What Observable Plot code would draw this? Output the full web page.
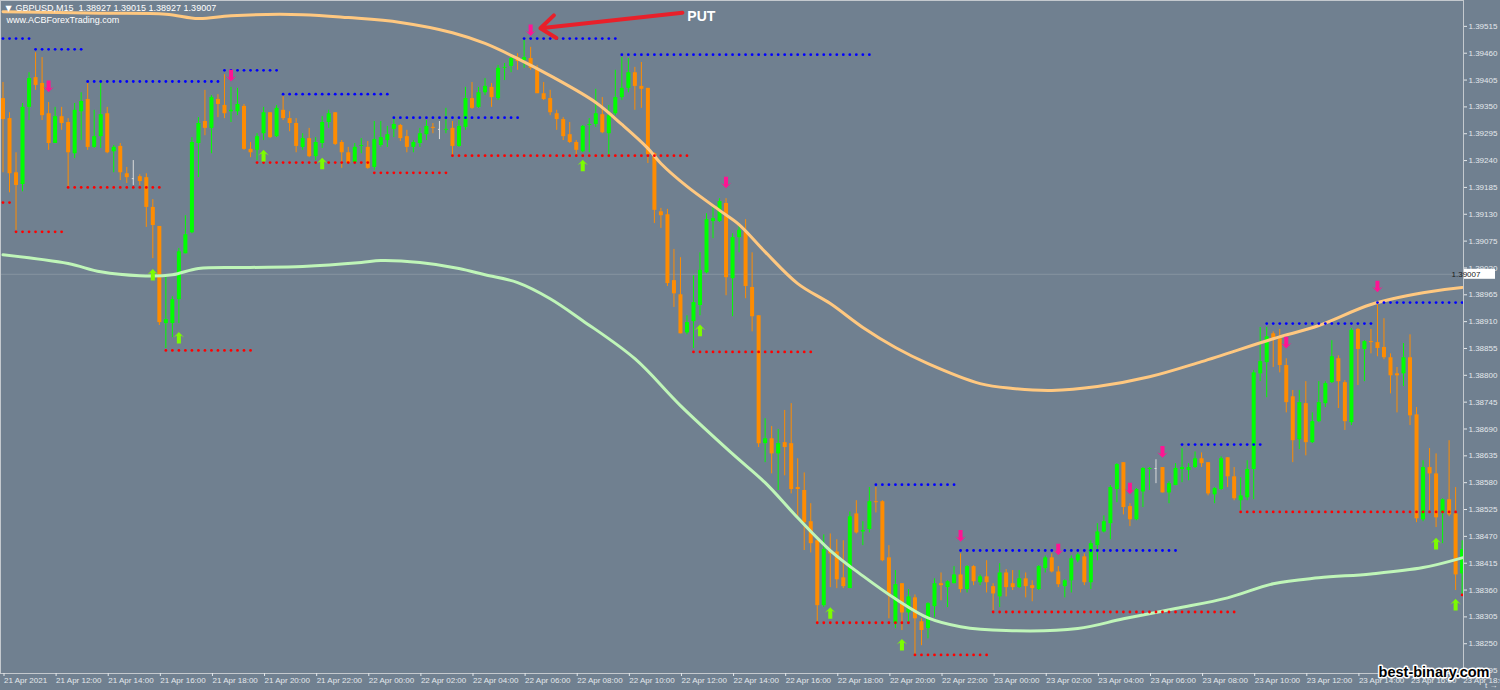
<!DOCTYPE html>
<html><head><meta charset="utf-8">
<script src="https://cdn.jsdelivr.net/npm/d3@7"></script>
<script src="https://cdn.jsdelivr.net/npm/@observablehq/plot@0.6"></script>
<style>html,body{margin:0;padding:0;background:#708090;overflow:hidden;}</style>
</head><body><div id="chart"></div>
<script>
// GBPUSD M15, candles from 21 Apr 2021 10:00, one per 15 minutes
const open = [
1.39367,1.39326,1.39215,1.39191,1.39349,1.39410,1.39398,1.39336,1.39275,1.39330,
1.39318,1.39254,1.39340,1.39365,1.39267,1.39289,1.39336,1.39258,1.39269,1.39213,
1.39203,1.39207,1.39205,1.39144,1.39105,1.38906,1.38906,1.38955,1.39049,1.39092,
1.39275,1.39320,1.39306,1.39365,1.39353,1.39340,1.39340,1.39351,1.39263,1.39261,
1.39295,1.39338,1.39289,1.39343,1.39326,1.39316,1.39267,1.39285,1.39248,1.39275,
1.39318,1.39338,1.39277,1.39256,1.39236,1.39269,1.39267,1.39226,1.39271,1.39281,
1.39304,1.39312,1.39289,1.39267,1.39275,1.39293,1.39308,1.39304,1.39302,1.39306,
1.39269,1.39308,1.39367,1.39349,1.39379,1.39390,1.39367,1.39429,1.39433,1.39451,
1.39445,1.39449,1.39429,1.39377,1.39367,1.39336,1.39324,1.39293,1.39277,1.39258,
1.39312,1.39314,1.39334,1.39295,1.39336,1.39369,1.39388,1.39420,1.39392,1.39388,
1.39254,1.39135,1.39129,1.38994,1.38965,1.38887,1.38910,1.38943,1.39010,1.39115,
1.39115,1.39152,1.38998,1.39082,1.39094,1.38980,1.38922,1.38660,1.38670,1.38639,
1.38662,1.38660,1.38570,1.38564,1.38500,1.38461,1.38328,1.38441,1.38438,1.38385,
1.38363,1.38516,1.38479,1.38484,1.38541,1.38541,1.38426,1.38291,1.38373,1.38313,
1.38344,1.38295,1.38281,1.38326,1.38373,1.38365,1.38373,1.38391,1.38361,1.38408,
1.38375,1.38387,1.38367,1.38346,1.38395,1.38373,1.38365,1.38383,1.38369,1.38361,
1.38404,1.38426,1.38397,1.38367,1.38379,1.38420,1.38428,1.38375,1.38451,1.38479,
1.38496,1.38566,1.38621,1.38531,1.38504,1.38561,1.38607,1.38609,1.38611,1.38559,
1.38574,1.38607,1.38605,1.38611,1.38629,1.38621,1.38555,1.38566,1.38631,1.38592,
1.38543,1.38549,1.38607,1.38803,1.38826,1.38885,1.38875,1.38820,1.38756,1.38668,
1.38742,1.38662,1.38705,1.38742,1.38785,1.38834,1.38785,1.38703,1.38894,1.38853,
1.38869,1.38867,1.38857,1.38836,1.38803,1.38803,1.38836,1.38719,1.38504,1.38611,
1.38598,1.38518,1.38545,1.38516,1.38393];
const high = [
1.39400,1.39338,1.39256,1.39357,1.39420,1.39461,1.39451,1.39359,1.39349,1.39349,
1.39326,1.39357,1.39379,1.39398,1.39343,1.39398,1.39349,1.39271,1.39275,1.39226,
1.39240,1.39211,1.39213,1.39160,1.39105,1.39006,1.38961,1.39060,1.39127,1.39287,
1.39328,1.39384,1.39373,1.39375,1.39416,1.39390,1.39388,1.39355,1.39277,1.39295,
1.39349,1.39338,1.39353,1.39371,1.39340,1.39326,1.39295,1.39306,1.39287,1.39330,
1.39343,1.39338,1.39281,1.39267,1.39275,1.39285,1.39279,1.39320,1.39320,1.39310,
1.39326,1.39314,1.39302,1.39281,1.39306,1.39322,1.39316,1.39320,1.39347,1.39320,
1.39322,1.39390,1.39400,1.39390,1.39408,1.39398,1.39435,1.39439,1.39455,1.39459,
1.39490,1.39472,1.39435,1.39400,1.39384,1.39343,1.39328,1.39318,1.39281,1.39312,
1.39326,1.39386,1.39369,1.39353,1.39425,1.39451,1.39449,1.39431,1.39441,1.39388,
1.39256,1.39142,1.39140,1.39058,1.39041,1.38922,1.39004,1.39051,1.39131,1.39148,
1.39162,1.39162,1.39090,1.39107,1.39119,1.39051,1.38922,1.38711,1.38695,1.38689,
1.38728,1.38742,1.38629,1.38600,1.38537,1.38461,1.38473,1.38475,1.38463,1.38461,
1.38520,1.38543,1.38500,1.38570,1.38570,1.38543,1.38451,1.38400,1.38373,1.38361,
1.38350,1.38301,1.38334,1.38383,1.38395,1.38379,1.38408,1.38434,1.38410,1.38410,
1.38391,1.38420,1.38373,1.38414,1.38402,1.38400,1.38400,1.38395,1.38379,1.38410,
1.38430,1.38434,1.38408,1.38381,1.38430,1.38436,1.38434,1.38461,1.38496,1.38512,
1.38574,1.38619,1.38621,1.38537,1.38568,1.38611,1.38611,1.38627,1.38611,1.38582,
1.38619,1.38650,1.38619,1.38643,1.38641,1.38621,1.38570,1.38633,1.38631,1.38611,
1.38590,1.38625,1.38810,1.38898,1.38898,1.38889,1.38894,1.38834,1.38769,1.38769,
1.38787,1.38723,1.38787,1.38787,1.38871,1.38840,1.38789,1.38896,1.38896,1.38871,
1.38894,1.38947,1.38916,1.38844,1.38816,1.38865,1.38883,1.38734,1.38625,1.38650,
1.38639,1.38547,1.38666,1.38570,1.38461];
const low = [
1.39215,1.39174,1.39097,1.39176,1.39322,1.39384,1.39322,1.39261,1.39275,1.39302,
1.39185,1.39244,1.39281,1.39261,1.39265,1.39265,1.39254,1.39215,1.39199,1.39193,
1.39189,1.39189,1.39103,1.39039,1.38902,1.38855,1.38877,1.38906,1.39049,1.39090,
1.39205,1.39291,1.39254,1.39328,1.39326,1.39318,1.39332,1.39261,1.39246,1.39240,
1.39281,1.39285,1.39287,1.39322,1.39299,1.39256,1.39261,1.39246,1.39240,1.39265,
1.39306,1.39271,1.39224,1.39234,1.39234,1.39254,1.39222,1.39220,1.39267,1.39267,
1.39287,1.39279,1.39256,1.39256,1.39267,1.39281,1.39295,1.39283,1.39295,1.39248,
1.39267,1.39302,1.39345,1.39347,1.39373,1.39349,1.39363,1.39404,1.39420,1.39425,
1.39429,1.39425,1.39377,1.39363,1.39332,1.39302,1.39281,1.39275,1.39252,1.39256,
1.39256,1.39308,1.39295,1.39250,1.39332,1.39363,1.39379,1.39343,1.39347,1.39234,
1.39111,1.39101,1.38982,1.38939,1.38885,1.38883,1.38855,1.38922,1.39008,1.39080,
1.39113,1.38963,1.38920,1.39051,1.38957,1.38889,1.38652,1.38621,1.38598,1.38564,
1.38594,1.38557,1.38508,1.38441,1.38436,1.38291,1.38324,1.38365,1.38363,1.38363,
1.38363,1.38475,1.38451,1.38477,1.38518,1.38418,1.38301,1.38281,1.38277,1.38293,
1.38225,1.38246,1.38260,1.38303,1.38338,1.38324,1.38373,1.38354,1.38354,1.38369,
1.38369,1.38354,1.38318,1.38324,1.38346,1.38359,1.38363,1.38344,1.38336,1.38359,
1.38395,1.38395,1.38365,1.38344,1.38354,1.38416,1.38369,1.38361,1.38420,1.38477,
1.38463,1.38539,1.38514,1.38490,1.38502,1.38529,1.38564,1.38578,1.38559,1.38537,
1.38574,1.38580,1.38584,1.38609,1.38611,1.38553,1.38537,1.38564,1.38570,1.38543,
1.38523,1.38543,1.38545,1.38787,1.38754,1.38816,1.38805,1.38723,1.38621,1.38648,
1.38635,1.38660,1.38703,1.38734,1.38783,1.38732,1.38687,1.38697,1.38779,1.38787,
1.38844,1.38838,1.38832,1.38762,1.38723,1.38777,1.38697,1.38498,1.38500,1.38523,
1.38488,1.38455,1.38510,1.38359,1.38348];
const close = [
1.39324,1.39213,1.39189,1.39349,1.39408,1.39394,1.39332,1.39275,1.39330,1.39316,
1.39256,1.39343,1.39361,1.39267,1.39289,1.39334,1.39256,1.39267,1.39215,1.39205,
1.39203,1.39197,1.39144,1.39107,1.38908,1.38914,1.38955,1.39053,1.39088,1.39277,
1.39316,1.39306,1.39369,1.39355,1.39336,1.39343,1.39355,1.39263,1.39256,1.39289,
1.39338,1.39287,1.39347,1.39326,1.39316,1.39269,1.39285,1.39248,1.39277,1.39318,
1.39336,1.39273,1.39256,1.39234,1.39267,1.39271,1.39224,1.39283,1.39287,1.39293,
1.39314,1.39285,1.39267,1.39277,1.39295,1.39310,1.39306,1.39304,1.39304,1.39269,
1.39310,1.39367,1.39347,1.39379,1.39392,1.39369,1.39429,1.39431,1.39449,1.39443,
1.39451,1.39429,1.39377,1.39365,1.39338,1.39324,1.39289,1.39277,1.39261,1.39310,
1.39314,1.39336,1.39297,1.39332,1.39369,1.39388,1.39420,1.39392,1.39386,1.39252,
1.39138,1.39127,1.38988,1.38967,1.38885,1.38908,1.38949,1.39015,1.39119,1.39121,
1.39156,1.39000,1.39082,1.39097,1.38982,1.38920,1.38660,1.38670,1.38639,1.38660,
1.38652,1.38566,1.38566,1.38498,1.38455,1.38328,1.38443,1.38434,1.38381,1.38367,
1.38510,1.38477,1.38482,1.38541,1.38539,1.38420,1.38348,1.38371,1.38313,1.38346,
1.38301,1.38277,1.38332,1.38373,1.38369,1.38377,1.38391,1.38361,1.38408,1.38377,
1.38387,1.38375,1.38352,1.38395,1.38365,1.38365,1.38383,1.38367,1.38363,1.38408,
1.38426,1.38397,1.38371,1.38379,1.38424,1.38432,1.38375,1.38455,1.38479,1.38500,
1.38570,1.38617,1.38529,1.38504,1.38566,1.38609,1.38609,1.38609,1.38559,1.38578,
1.38609,1.38611,1.38611,1.38629,1.38619,1.38557,1.38568,1.38629,1.38592,1.38547,
1.38553,1.38607,1.38805,1.38828,1.38879,1.38873,1.38820,1.38744,1.38666,1.38744,
1.38662,1.38705,1.38744,1.38783,1.38838,1.38787,1.38705,1.38892,1.38853,1.38869,
1.38867,1.38855,1.38836,1.38799,1.38799,1.38836,1.38717,1.38506,1.38611,1.38598,
1.38508,1.38545,1.38514,1.38391,1.38443];

// Resistance (blue dotted) and support (red dotted) levels: first candle, last candle, price
const resStart = [0,5,13,34,43,60,80,95,134,147,181,194,211];
const resEnd   = [4,12,33,42,59,79,94,133,146,180,193,210,224];
const resPrice = [1.39490,1.39468,1.39402,1.39425,1.39376,1.39328,1.39490,1.39457,1.38576,1.38441,1.38658,1.38906,1.38949];
const supStart = [0,2,10,25,39,57,69,106,125,140,152,190,224];
const supEnd   = [1,9,24,38,56,68,105,124,139,151,189,223,224];
const supPrice = [1.39154,1.39094,1.39185,1.38851,1.39236,1.39215,1.39250,1.38848,1.38293,1.38227,1.38315,1.38520,1.38350];

// Signal arrows
const downIdx   = [7,35,81,111,147,162,173,178,197,211];
const downPrice = [1.39392,1.39414,1.39507,1.39195,1.38471,1.38443,1.38568,1.38643,1.38867,1.38982];
const upIdx     = [23,27,40,49,89,107,127,138,220,223];
const upPrice   = [1.39006,1.38877,1.39250,1.39234,1.39230,1.38892,1.38313,1.38248,1.38455,1.38330];

// Moving averages (sampled at candle indices)
const maUpIdx = [0,15,25,30,35,46,53,61,69,74,79,84,91,95,99,101,105,110,113,117,122,127,132,137,142,150,155,161,168,176,184,195,202,210,218,224];
const maUpVal = [1.39545,1.39542,1.39540,1.39531,1.39537,1.39539,1.39533,1.39523,1.39502,1.39480,1.39449,1.39414,1.39359,1.39314,1.39265,1.39234,1.39187,1.39138,1.39109,1.39053,1.38988,1.38947,1.38898,1.38857,1.38824,1.38783,1.38773,1.38769,1.38777,1.38797,1.38828,1.38875,1.38902,1.38945,1.38969,1.38980];
const maLoIdx = [0,10,15,21,26,30,38,46,55,58,64,70,74,79,84,89,97,104,112,117,122,127,132,137,142,147,154,165,172,180,188,195,202,210,218,224];
const maLoVal = [1.39047,1.39029,1.39012,1.39004,1.39006,1.39019,1.39021,1.39023,1.39031,1.39035,1.39031,1.39019,1.39006,1.38990,1.38957,1.38912,1.38834,1.38738,1.38639,1.38580,1.38508,1.38441,1.38389,1.38342,1.38303,1.38285,1.38277,1.38281,1.38301,1.38322,1.38344,1.38373,1.38385,1.38393,1.38406,1.38426];

// Axis ticks
const yTicks = [1.39515,1.39460,1.39405,1.39350,1.39295,1.39240,1.39185,1.39130,1.39075,1.39020,1.38965,1.38910,1.38855,1.38800,1.38745,1.38690,1.38635,1.38580,1.38525,1.38470,1.38415,1.38360,1.38305,1.38250,1.38195];
const xTickIdx = d3.range(0, 225, 8);
const lastPrice = 1.39007;
const titleText = "GBPUSD,M15\u00a0 1.38927 1.39015 1.38927 1.39007";
const siteText = "www.ACBForexTrading.com";
const watermark = "best-binary.com";

// Annotation
const putArrow = [{fromIdx: 104.3, fromPrice: 1.39543, toIdx: 82.5, toPrice: 1.39511}];
const putLabel = [{idx: 107.2, price: 1.39535, text: "PUT"}];

// ---------- build ----------
const t0 = Date.UTC(2021, 3, 21, 10, 0);
const M15 = 15 * 60 * 1000;
const time = i => new Date(t0 + i * M15);
const candles = open.map((o, i) => ({t: time(i), o, h: high[i], l: low[i], c: close[i],
  dir: close[i] > o ? "up" : close[i] < o ? "down" : "doji"}));
const up = candles.filter(d => d.dir === "up");
const down = candles.filter(d => d.dir === "down");
const doji = candles.filter(d => d.dir === "doji");
const resDots = resStart.flatMap((s, k) => d3.range(s, resEnd[k] + 1).map(i => ({t: time(i), p: resPrice[k]})));
const supDots = supStart.flatMap((s, k) => d3.range(s, supEnd[k] + 1).map(i => ({t: time(i), p: supPrice[k]})));
const downArr = downIdx.map((i, k) => ({t: time(i), p: downPrice[k]}));
const upArr = upIdx.map((i, k) => ({t: time(i), p: upPrice[k]}));
const maUp = maUpIdx.map((i, k) => ({t: time(i), p: maUpVal[k]}));
const maLo = maLoIdx.map((i, k) => ({t: time(i), p: maLoVal[k]}));

const W = 1500, H = 690, mR = 37, mB = 17;
const pxPerCandle = 6.514, firstCenter = 2.5;
const xDomain = [time(-firstCenter / pxPerCandle), time((W - mR - firstCenter) / pxPerCandle)];
const yDomain = [1.38189, 1.39568];

const upSym = {draw(ctx, size) {
  const r = Math.sqrt(size / Math.PI);
  ctx.moveTo(0, -1.1 * r); ctx.lineTo(r, -0.05 * r); ctx.lineTo(0.38 * r, -0.4 * r);
  ctx.lineTo(0.38 * r, 1.1 * r); ctx.lineTo(-0.38 * r, 1.1 * r); ctx.lineTo(-0.38 * r, -0.4 * r);
  ctx.lineTo(-r, -0.05 * r); ctx.closePath();
}};
const downSym = {draw(ctx, size) {
  const r = Math.sqrt(size / Math.PI);
  ctx.moveTo(0, 1.1 * r); ctx.lineTo(r, 0.05 * r); ctx.lineTo(0.38 * r, 0.4 * r);
  ctx.lineTo(0.38 * r, -1.1 * r); ctx.lineTo(-0.38 * r, -1.1 * r); ctx.lineTo(-0.38 * r, 0.4 * r);
  ctx.lineTo(-r, 0.05 * r); ctx.closePath();
}};

const fmtX = d => (+d === t0 ? "21 Apr 2021" : d3.utcFormat("%d %b %H:%M")(d));
const half = 2.3 * 60000;
const axisColor = "#e4e8ec";
const GREEN = "#00ff00", ORANGE = "#ff8c00", DOJI = "#dcdcdc";

const plot = Plot.plot({
  width: W, height: H,
  marginLeft: 0, marginRight: mR, marginTop: 0, marginBottom: mB,
  style: {background: "#708090", fontFamily: "Liberation Sans, Arial, sans-serif", overflow: "visible"},
  x: {type: "utc", domain: xDomain},
  y: {domain: yDomain},
  marks: [
    Plot.ruleY([lastPrice], {stroke: "#8693a0", strokeWidth: 1}),
    Plot.ruleX(up, {x: "t", y1: "l", y2: "h", stroke: GREEN, strokeWidth: 1}),
    Plot.ruleX(down, {x: "t", y1: "l", y2: "h", stroke: ORANGE, strokeWidth: 1}),
    Plot.ruleX(doji, {x: "t", y1: "l", y2: "h", stroke: DOJI, strokeWidth: 1}),
    Plot.ruleX(up, {x: "t", y1: "o", y2: "c", stroke: GREEN, strokeWidth: 4}),
    Plot.ruleX(down, {x: "t", y1: "o", y2: "c", stroke: ORANGE, strokeWidth: 4}),
    Plot.ruleY(doji, {y: "o", x1: d => new Date(+d.t - half), x2: d => new Date(+d.t + half), stroke: DOJI, strokeWidth: 1}),
    Plot.line(maUp, {x: "t", y: "p", stroke: "#ffc880", strokeWidth: 3, curve: "catmull-rom"}),
    Plot.line(maLo, {x: "t", y: "p", stroke: "#bff5b8", strokeWidth: 3, curve: "catmull-rom"}),
    Plot.dot(resDots, {x: "t", y: "p", r: 1.4, fill: "#0000ff"}),
    Plot.dot(supDots, {x: "t", y: "p", r: 1.4, fill: "#ff0000"}),
    Plot.dot(downArr, {x: "t", y: "p", r: 5.3, symbol: downSym, fill: "#ff1493"}),
    Plot.dot(upArr, {x: "t", y: "p", r: 5.3, symbol: upSym, fill: "#7cfc00"}),
    Plot.arrow(putArrow, {x1: d => time(d.fromIdx), y1: "fromPrice", x2: d => time(d.toIdx), y2: "toPrice",
      stroke: "#e8202a", strokeWidth: 4, headLength: 7, headAngle: 75}),
    Plot.text(putLabel, {x: d => time(d.idx), y: "price", text: "text", fill: "white", fontSize: 14, fontWeight: "bold"}),
    Plot.frame({stroke: "#c4c9ce"}),
    Plot.axisX({ticks: xTickIdx.map(time), tickFormat: fmtX, tickSize: 3, tickPadding: 1, textAnchor: "start", dx: 1, fontSize: 8, color: axisColor}),
    Plot.axisY({anchor: "right", ticks: yTicks, tickFormat: d => d.toFixed(5), tickSize: 3, tickPadding: 2, fontSize: 8, color: axisColor}),
    Plot.text(["\u25bc"], {frameAnchor: "top-left", dx: 5, dy: 8, textAnchor: "start", lineAnchor: "middle", fontSize: 8, fill: "white", fontFamily: "DejaVu Sans"}),
    Plot.text([titleText], {frameAnchor: "top-left", dx: 15, dy: 8, textAnchor: "start", lineAnchor: "middle", fontSize: 9, fill: "white"}),
    Plot.text([siteText], {frameAnchor: "top-left", dx: 6, dy: 20, textAnchor: "start", lineAnchor: "middle", fontSize: 9, fill: "white"}),
    Plot.text([watermark], {frameAnchor: "bottom-right", dx: 26, dy: -1, textAnchor: "end", lineAnchor: "middle",
      fontSize: 14.5, fontWeight: "bold", fill: "black", stroke: "white", strokeWidth: 3, paintOrder: "stroke"})
  ]
});

// current price tag on the right axis
const yy = plot.scale("y").apply(lastPrice);
const sel = d3.select(plot);
sel.append("rect").attr("x", W - mR + 1).attr("y", yy - 5).attr("width", 31).attr("height", 10)
  .attr("fill", "white");
sel.append("text").attr("x", W - mR + 3).attr("y", yy).attr("dy", "0.35em")
  .attr("font-size", 8).attr("font-family", "Liberation Sans, Arial, sans-serif").attr("fill", "#1a1a1a")
  .text(lastPrice.toFixed(5));

document.getElementById("chart").appendChild(plot);
</script>
</body></html>
